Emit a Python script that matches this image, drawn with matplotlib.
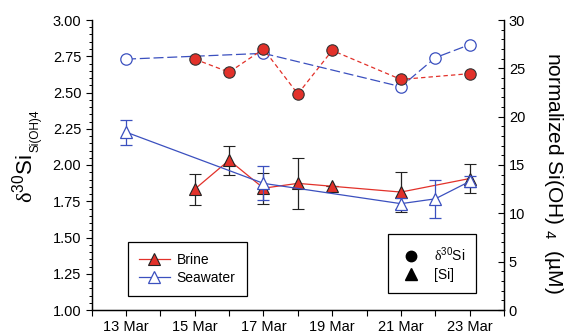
import matplotlib
matplotlib.use("Agg")
import matplotlib.pyplot as plt
from matplotlib.lines import Line2D
from matplotlib.ticker import MultipleLocator, FixedLocator, FormatStrFormatter

plt.rcParams['font.family'] = ['Liberation Sans', 'DejaVu Sans']
plt.rcParams['mathtext.fontset'] = 'custom'
plt.rcParams['mathtext.rm'] = 'Liberation Sans'
plt.rcParams['mathtext.it'] = 'Liberation Serif'
plt.rcParams['mathtext.default'] = 'regular'

RED = '#e2312a'
BLUE = '#3b50bf'

# delta30Si (left axis)
brine_d_days = [15, 16, 17, 18, 19, 21, 23]
brine_d = [2.73, 2.64, 2.80, 2.49, 2.79, 2.59, 2.63]
sea_d_days = [13, 17, 21, 22, 23]
sea_d = [2.73, 2.77, 2.54, 2.74, 2.83]

# normalized Si(OH)4 (right axis)
brine_si_days = [15, 16, 17, 18, 19, 21, 23]
brine_si = [12.5, 15.5, 12.6, 13.1, 12.8, 12.2, 13.6]
brine_si_err = [1.6, 1.5, 1.6, 2.6, 0.0, 2.1, 1.5]
sea_si_days = [13, 17, 21, 22, 23]
sea_si = [18.4, 13.1, 11.0, 11.5, 13.3]
sea_si_err = [1.3, 1.75, 0.6, 2.0, 0.6]

xtick_days = [13, 15, 17, 19, 21, 23]
xtick_labels = ['13 Mar', '15 Mar', '17 Mar', '19 Mar', '21 Mar', '23 Mar']

W, H = 565, 336
fig = plt.figure(figsize=(W / 100, H / 100), dpi=100)
ax = fig.add_axes([91.7 / W, 26 / H, 412.3 / W, 290 / H])
ax2 = ax.twinx()

# circles
ax.plot(sea_d_days, sea_d, color=BLUE, lw=0.9, dashes=(8, 3),
        marker='o', ms=8.2, mfc='white', mec=BLUE, mew=0.9, zorder=3)
ax.plot(brine_d_days, brine_d, color=RED, lw=0.9, dashes=(3.5, 2.5),
        marker='o', ms=8.2, mfc=RED, mec='#333333', mew=0.8, zorder=4)

# triangles
ax2.errorbar(brine_si_days, brine_si, yerr=brine_si_err, color=RED, lw=0.9,
             marker='^', ms=9, mfc=RED, mec='#222222', mew=0.8,
             ecolor='#222222', elinewidth=0.9, capsize=4, capthick=0.9, zorder=3)
ax2.errorbar(sea_si_days, sea_si, yerr=sea_si_err, color=BLUE, lw=0.9,
             marker='^', ms=9, mfc='white', mec=BLUE, mew=0.9,
             ecolor=BLUE, elinewidth=0.9, capsize=4, capthick=0.9, zorder=4)

ax.set_xlim(12, 24)
ax.set_ylim(1.0, 3.0)
ax2.set_ylim(0, 30)

ax.xaxis.set_major_locator(FixedLocator(xtick_days))
ax.set_xticklabels(xtick_labels)
ax.xaxis.set_minor_locator(MultipleLocator(1))
ax.yaxis.set_major_locator(MultipleLocator(0.25))
ax.yaxis.set_minor_locator(MultipleLocator(0.05))
ax.yaxis.set_major_formatter(FormatStrFormatter('%.2f'))
ax2.yaxis.set_major_locator(MultipleLocator(5))
ax2.yaxis.set_minor_locator(MultipleLocator(1))

for a in (ax, ax2):
    a.spines['top'].set_visible(False)
    for s in a.spines.values():
        s.set_linewidth(0.9)

ax.tick_params(axis='both', which='major', direction='out', length=4, width=0.8, labelsize=10.5)
ax.tick_params(axis='y', which='minor', direction='out', length=2.5, width=0.7)
ax.tick_params(axis='x', which='minor', direction='out', length=4, width=0.8)
ax2.tick_params(axis='y', which='major', direction='in', length=4, width=0.8, labelsize=10.5)
ax2.tick_params(axis='y', which='minor', direction='in', length=2.5, width=0.7)

# left y label composed of main part and small subscript
fig.text(33 / W, 1 - 203 / H, r'$\mathit{\delta}$$^{30}$Si', fontsize=16, rotation=90,
         ha='left', va='baseline', rotation_mode='anchor')
fig.text(38 / W, 1 - 152 / H, 'Si(OH)4', fontsize=8.5, rotation=90,
         ha='left', va='baseline', rotation_mode='anchor')

# right y label
fig.text(553 / W, 1 - 173 / H, r'normalized Si(OH) $_4$  (µM)', fontsize=15, rotation=270,
         ha='center', va='center', rotation_mode='anchor')

h1 = [Line2D([], [], color=RED, lw=0.9, marker='^', ms=9, mfc=RED, mec='#222222', mew=0.8),
      Line2D([], [], color=BLUE, lw=0.9, marker='^', ms=9, mfc='white', mec=BLUE, mew=0.9)]
leg1 = ax2.legend(h1, ['Brine', 'Seawater'], loc='lower left',
                  bbox_to_anchor=((128 - 91.7) / 412.3, (310 - 296) / 290),
                  borderaxespad=0, fancybox=False, edgecolor='black', framealpha=1,
                  fontsize=10, handlelength=2.2, handletextpad=0.5,
                  borderpad=0.8, labelspacing=0.3)
leg1.get_frame().set_linewidth(0.9)
ax2.add_artist(leg1)

h2 = [Line2D([], [], ls='none', marker='o', ms=7.5, color='black'),
      Line2D([], [], ls='none', marker='^', ms=8.5, color='black')]
leg2 = ax2.legend(h2, [r'$\mathit{\delta}$$^{30}$Si', '[Si]'], loc='lower right',
                  bbox_to_anchor=((476 - 91.7) / 412.3, (310 - 293) / 290),
                  borderaxespad=0, fancybox=False, edgecolor='black', framealpha=1,
                  fontsize=10, handlelength=1.8, handletextpad=0.7,
                  borderpad=0.8, labelspacing=0.3)
leg2.get_frame().set_linewidth(0.9)

fig.savefig('out.png', dpi=100)
